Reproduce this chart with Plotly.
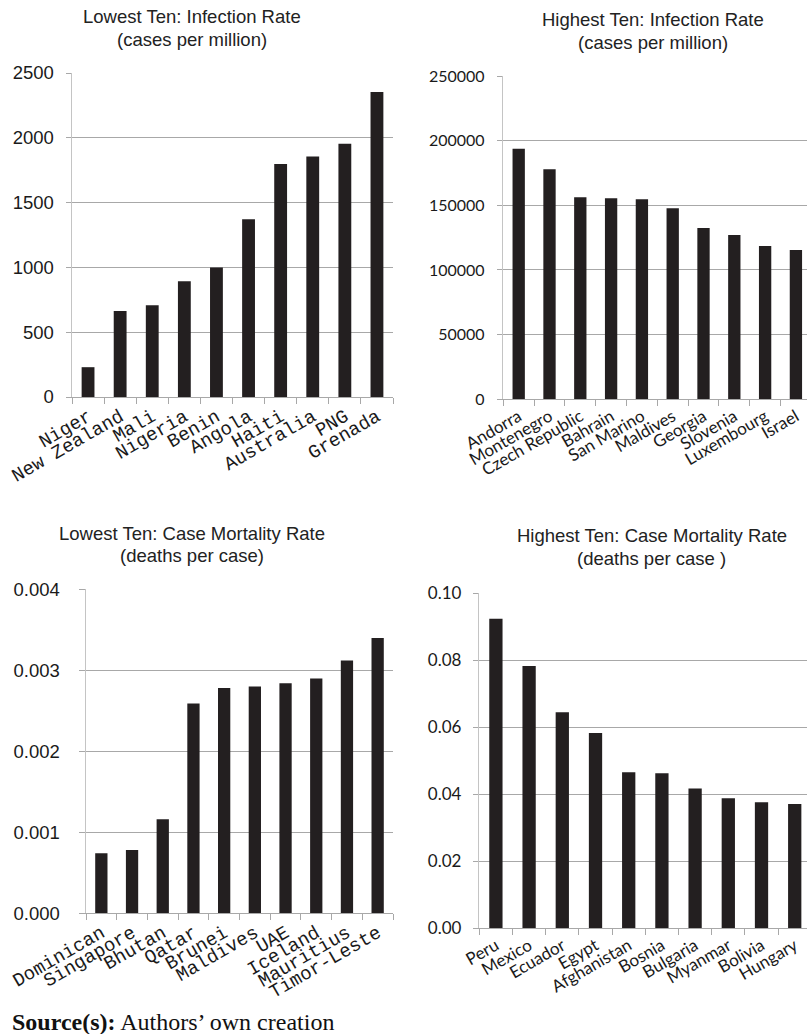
import plotly.graph_objects as go

# ---- data ----
low_inf_countries = ["Niger", "New Zealand", "Mali", "Nigeria", "Benin", "Angola",
                     "Haiti", "Australia", "PNG", "Grenada"]
low_inf_values = [230, 663, 707, 893, 1000, 1371, 1798, 1855, 1955, 2353]

high_inf_countries = ["Andorra", "Montenegro", "Czech Republic", "Bahrain", "San Marino",
                      "Maldives", "Georgia", "Slovenia", "Luxembourg", "Israel"]
high_inf_values = [193800, 177900, 156200, 155400, 154700, 147700, 132500, 127100, 118500, 115500]

low_cmr_countries = ["Dominican", "Singapore", "Bhutan", "Qatar", "Brunei", "Maldives",
                     "UAE", "Iceland", "Mauritius", "Timor-Leste"]
low_cmr_values = [0.00074, 0.00078, 0.00116, 0.00259, 0.00278, 0.0028, 0.00284,
                  0.0029, 0.00312, 0.0034]

high_cmr_countries = ["Peru", "Mexico", "Ecuador", "Egypt", "Afghanistan", "Bosnia",
                      "Bulgaria", "Myanmar", "Bolivia", "Hungary"]
high_cmr_values = [0.0924, 0.0783, 0.0645, 0.0583, 0.0466, 0.0463, 0.0417, 0.0388,
                   0.0376, 0.0371]

title_lines = [
    ("Lowest Ten: Infection Rate", "(cases per million)"),
    ("Highest Ten: Infection Rate", "(cases per million)"),
    ("Lowest Ten: Case Mortality Rate", "(deaths per case)"),
    ("Highest Ten: Case Mortality Rate", "(deaths per case )"),
]

W, H = 807, 1034
BAR = "#231f20"
GRID = "#a8a8a8"
YLINE = "#c4c4c4"
ARIAL = "Liberation Sans, Arial, sans-serif"
MONO = "Liberation Mono, Courier New, monospace"
CALIBRI = "Lato, Open Sans, sans-serif"


def px(v):
    return v / W


def py(v):
    return 1 - v / H


fig = go.Figure()

panels = [
    (low_inf_countries, low_inf_values, "", (72, 393), (73, 397), [0, 2500], 500, "d", MONO, 19, ARIAL, 18.5, 9.5, 8, 5),
    (high_inf_countries, high_inf_values, "2", (503.3, 807), (76, 399.3), [0, 250000], 50000, "d", CALIBRI, 17, CALIBRI, 16, 9.36, 9, 5),
    (low_cmr_countries, low_cmr_values, "3", (86, 393), (589.3, 913.3), [0, 0.004], 0.001, ".3f", MONO, 19, ARIAL, 18.5, 9.5, 15, 6),
    (high_cmr_countries, high_cmr_values, "4", (479.3, 807), (593.3, 928.3), [0, 0.1], 0.02, ".2f", CALIBRI, 17, CALIBRI, 17, 9.37, 8, 5),
]

layout_axes = {}
for cats, vals, ax, (x0, x1), (yt, yb), yr, dt, fmt, xfont, xsize, yfont, ysize, xend, standoff, tlen in panels:
    fig.add_trace(go.Bar(x=cats, y=vals, marker=dict(color=BAR, line=dict(width=0)),
                         width=0.4, xaxis="x" + ax, yaxis="y" + ax, showlegend=False))
    layout_axes["xaxis" + ax] = dict(
        domain=[px(x0), min(px(x1), 1)], anchor="y" + ax, type="category", automargin=False,
        range=[-0.5, xend], showgrid=False, showline=True, linecolor=GRID, linewidth=1,
        ticks="outside", ticklen=6, tickcolor=GRID, tickson="boundaries",
        tickangle=-30, tickfont=dict(family=xfont, size=xsize, color="#1a1a1a"),
        zeroline=False, fixedrange=True,
    )
    layout_axes["yaxis" + ax] = dict(
        domain=[py(yb), py(yt)], anchor="x" + ax, range=yr, dtick=dt,
        tickformat=fmt, showgrid=True, gridcolor=GRID, gridwidth=1, automargin=False,
        showline=True, linecolor=YLINE, linewidth=1.5, zeroline=False,
        ticks="outside", ticklen=tlen, tickcolor=GRID, ticklabelstandoff=standoff,
        tickfont=dict(family=yfont, size=ysize, color="#1a1a1a"), fixedrange=True,
    )

annotations = []
title_pos = [(191.7, 16.7, 40), (652.5, 19, 42), (192, 533.3, 555), (651.7, 535, 558)]
for (l1, l2), (cx, y1, y2) in zip(title_lines, title_pos):
    for txt, yy in ((l1, y1), (l2, y2)):
        annotations.append(dict(text=txt, x=px(cx), y=py(yy), xref="paper", yref="paper",
                                xanchor="center", yanchor="middle", showarrow=False,
                                font=dict(family=ARIAL, size=18.5, color="#222222")))
annotations.append(dict(text="<b>Source(s):</b> Authors’ own creation", x=px(10), y=py(1021.7),
                        xref="paper", yref="paper", xanchor="left", yanchor="middle",
                        showarrow=False,
                        font=dict(family="Liberation Serif, Times New Roman, serif", size=24,
                                  color="#111111")))

fig.update_layout(
    width=W, height=H, margin=dict(l=0, r=0, t=0, b=0, autoexpand=False),
    paper_bgcolor="white", plot_bgcolor="white", bargap=0.6,
    annotations=annotations, **layout_axes,
)

fig.write_html("out.html", config={"displayModeBar": False, "staticPlot": True},
               post_script="document.body.style.margin='0';document.body.style.overflow='hidden';")
